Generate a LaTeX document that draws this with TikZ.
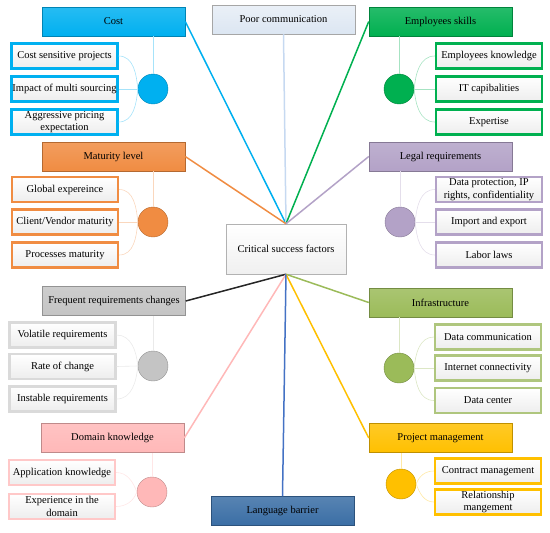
\documentclass[tikz,border=0pt]{standalone}
\usepackage{fontspec}
\setmainfont{Liberation Serif}
\definecolor{cblue}{HTML}{00B0F0}
\definecolor{cgreen}{HTML}{00B050}
\definecolor{corange}{HTML}{F08C42}
\definecolor{cpurple}{HTML}{B3A2C7}
\definecolor{cgray}{HTML}{C4C4C4}
\definecolor{colive}{HTML}{9BBB59}
\definecolor{cpink}{HTML}{FFB8B8}
\definecolor{cgold}{HTML}{FFC000}
\definecolor{cnavy}{HTML}{3A6EA5}
\definecolor{cpoor}{HTML}{DCE6F2}
\definecolor{cpoorline}{HTML}{C6D9F1}
\definecolor{cdark}{HTML}{262626}
\definecolor{cnavyline}{HTML}{4472C4}
\definecolor{cgraysub}{HTML}{DADADA}
\definecolor{cpinksub}{HTML}{FFC8C8}
\definecolor{colivesub}{HTML}{AFC67E}
\begin{document}
\begin{tikzpicture}[x=1pt,y=-1pt,
  every node/.style={font=\fontsize{10.5}{12.5}\selectfont},
  hdr/.style={draw=#1!75!black, line width=0.5pt, top color=#1!85!white, bottom color=#1,
    minimum width=143pt, minimum height=29pt, inner sep=1pt},
  sub/.style={draw=#1, line width=2.2pt, top color=white, bottom color=black!7,
    minimum width=106pt, minimum height=25pt, inner sep=0.5pt, align=center},
  dot/.style={circle, fill=#1, draw=#1!75!black, line width=0.4pt, minimum size=30pt, inner sep=0pt},
  link/.style={draw=#1!35!white, line width=0.6pt},
  main/.style={draw=#1, line width=1.5pt}]
\useasboundingbox (0,0) rectangle (550,533);

% centre
\node[draw=black!30, line width=0.5pt, top color=white, bottom color=black!6,
  minimum width=120pt, minimum height=50pt] (csf) at (286,249) {Critical success factors};

% headers
\node[hdr=cblue] (cost) at (113.5,21.5) {Cost};
\node[draw=black!35, line width=0.5pt, top color=cpoor!60!white, bottom color=cpoor,
  minimum width=143pt, minimum height=29pt, inner sep=1pt] (poor) at (283.5,19.5) {Poor communication};
\node[hdr=cgreen] (emp) at (440.5,21.5) {Employees skills};
\node[hdr=corange] (mat) at (113.5,156.5) {Maturity level};
\node[hdr=cpurple] (leg) at (440.5,156.5) {Legal requirements};
\node[hdr=cgray] (freq) at (114,301) {Frequent requirements changes};
\node[hdr=colive] (inf) at (440.5,302.5) {Infrastructure};
\node[hdr=cpink] (dom) at (112.5,438) {Domain knowledge};
\node[hdr=cgold] (pm) at (440.5,438) {Project management};
\node[hdr=cnavy] (lang) at (282.5,511) {Language barrier};

% main connectors
\draw[main=cblue] (cost.east) -- (csf.north);
\draw[main=cpoorline] (poor.south) -- (csf.north);
\draw[main=cgreen] (emp.west) -- (csf.north);
\draw[main=corange] (mat.east) -- (csf.north);
\draw[main=cpurple] (leg.west) -- (csf.north);
\draw[main=cdark] (freq.east) -- (csf.south);
\draw[main=colive] (inf.west) -- (csf.south);
\draw[main=cpink] (dom.east) -- (csf.south);
\draw[main=cgold] (pm.west) -- (csf.south);
\draw[main=cnavyline] (lang.north) -- (csf.south);

% Cost group
\node[dot=cblue] (costc) at (153,89) {};
\node[sub=cblue] (cost1) at (64.5,56) {Cost sensitive projects};
\node[sub=cblue] (cost2) at (64.5,89) {Impact of multi sourcing};
\node[sub=cblue] (cost3) at (64.5,122) {Aggressive pricing\\expectation};
\draw[link=cblue] (costc.north) -- (costc.north |- cost.south);
\draw[link=cblue] (costc.west) to[out=95,in=0] (cost1.east);
\draw[link=cblue] (costc.west) -- (cost2.east);
\draw[link=cblue] (costc.west) to[out=-95,in=0] (cost3.east);

% Employees group
\node[dot=cgreen] (empc) at (399,89) {};
\node[sub=cgreen] (emp1) at (489,56) {Employees knowledge};
\node[sub=cgreen] (emp2) at (489,89) {IT capibalities};
\node[sub=cgreen] (emp3) at (489,122) {Expertise};
\draw[link=cgreen] (empc.north) -- (empc.north |- emp.south);
\draw[link=cgreen] (empc.east) to[out=85,in=180] (emp1.west);
\draw[link=cgreen] (empc.east) -- (emp2.west);
\draw[link=cgreen] (empc.east) to[out=-85,in=180] (emp3.west);

% Maturity group
\node[dot=corange] (matc) at (153,222) {};
\node[sub=corange] (mat1) at (65,189.5) {Global expereince};
\node[sub=corange] (mat2) at (65,222) {Client/Vendor maturity};
\node[sub=corange] (mat3) at (65,255) {Processes maturity};
\draw[link=corange] (matc.north) -- (matc.north |- mat.south);
\draw[link=corange] (matc.west) to[out=95,in=0] (mat1.east);
\draw[link=corange] (matc.west) -- (mat2.east);
\draw[link=corange] (matc.west) to[out=-95,in=0] (mat3.east);

% Legal group
\node[dot=cpurple] (legc) at (400,222) {};
\node[sub=cpurple] (leg1) at (489,189.5) {Data protection, IP\\rights, confidentiality};
\node[sub=cpurple] (leg2) at (489,222) {Import and export};
\node[sub=cpurple] (leg3) at (489,255) {Labor laws};
\draw[link=cpurple] (legc.north) -- (legc.north |- leg.south);
\draw[link=cpurple] (legc.east) to[out=85,in=180] (leg1.west);
\draw[link=cpurple] (legc.east) -- (leg2.west);
\draw[link=cpurple] (legc.east) to[out=-85,in=180] (leg3.west);

% Frequent group
\node[dot=cgray] (freqc) at (153,366) {};
\node[sub=cgraysub] (freq1) at (62.5,335) {Volatile requirements};
\node[sub=cgraysub] (freq2) at (62.5,366.5) {Rate of change};
\node[sub=cgraysub] (freq3) at (62.5,399) {Instable requirements};
\draw[link=cgray] (freqc.north) -- (freqc.north |- freq.south);
\draw[link=cgray] (freqc.west) to[out=95,in=0] (freq1.east);
\draw[link=cgray] (freqc.west) -- (freq2.east);
\draw[link=cgray] (freqc.west) to[out=-95,in=0] (freq3.east);

% Infrastructure group
\node[dot=colive] (infc) at (399,368) {};
\node[sub=colivesub] (inf1) at (488,337) {Data communication};
\node[sub=colivesub] (inf2) at (488,368) {Internet connectivity};
\node[sub=colivesub] (inf3) at (488,400.5) {Data center};
\draw[link=colive] (infc.north) -- (infc.north |- inf.south);
\draw[link=colive] (infc.east) to[out=85,in=180] (inf1.west);
\draw[link=colive] (infc.east) -- (inf2.west);
\draw[link=colive] (infc.east) to[out=-85,in=180] (inf3.west);

% Domain group
\node[dot=cpink] (domc) at (152,492) {};
\node[sub=cpinksub] (dom1) at (62,472.5) {Application knowledge};
\node[sub=cpinksub] (dom2) at (62,506.5) {Experience in the\\domain};
\draw[link=cpink] (domc.north) -- (domc.north |- dom.south);
\draw[link=cpink] (domc.west) to[out=110,in=0] (dom1.east);
\draw[link=cpink] (domc.west) to[out=-110,in=0] (dom2.east);

% Project management group
\node[dot=cgold] (pmc) at (401,484) {};
\node[sub=cgold] (pm1) at (488,471) {Contract management};
\node[sub=cgold] (pm2) at (488,502) {Relationship\\mangement};
\draw[link=cgold] (pmc.north) -- (pmc.north |- pm.south);
\draw[link=cgold] (pmc.east) to[out=70,in=180] (pm1.west);
\draw[link=cgold] (pmc.east) to[out=-70,in=180] (pm2.west);
\end{tikzpicture}
\end{document}
